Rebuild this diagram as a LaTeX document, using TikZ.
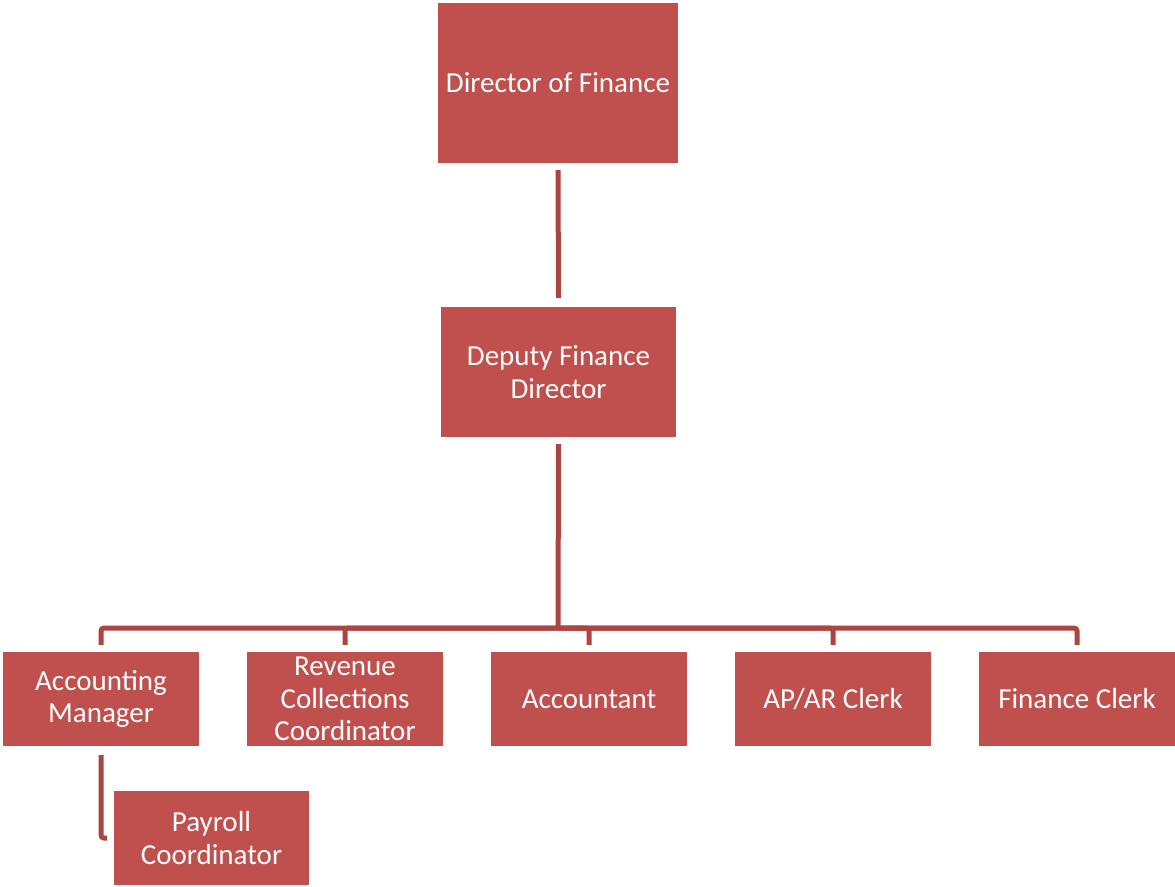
\documentclass[tikz,border=0pt]{standalone}
\usepackage{fontspec}
\setmainfont{Carlito}
\definecolor{boxred}{RGB}{192,80,77}
\definecolor{linered}{RGB}{172,68,66}
\begin{document}
\begin{tikzpicture}[x=1pt,y=-1pt,
  box/.style={fill=boxred, draw=none, text=white, align=center, inner sep=0pt,
    font=\fontsize{29}{32.5}\selectfont},
  conn/.style={draw=linered, line width=5pt}]
\useasboundingbox (0,0) rectangle (1175,886);
\node[box, minimum width=240, minimum height=160] (dir) at (558,83) {Director of Finance};
\node[box, minimum width=235, minimum height=130] (dep) at (558.5,372) {Deputy Finance\\Director};
\node[box, minimum width=196, minimum height=94] (b1) at (101,699) {Accounting\\Manager};
\node[box, minimum width=196, minimum height=94] (b2) at (345,699) {Revenue\\Collections\\Coordinator};
\node[box, minimum width=196, minimum height=94] (b3) at (589,699) {Accountant};
\node[box, minimum width=196, minimum height=94] (b4) at (833,699) {AP/AR Clerk};
\node[box, minimum width=196, minimum height=94] (b5) at (1077,699) {Finance Clerk};
\node[box, minimum width=195, minimum height=94] (pay) at (211.5,838) {Payroll\\Coordinator};
\coordinate (bus) at (558,628);
\draw[conn] ([yshift=-7pt]dir.south) -- ([yshift=9pt]dep.north);
\draw[conn] ([yshift=-7pt]dep.south) -- (bus);
\foreach \n in {b1,b2,b3,b4,b5}
  \draw[conn, rounded corners=3pt] (bus) -| ([yshift=7pt]\n.north);
\draw[conn, rounded corners=3pt] ([yshift=-9pt]b1.south) |- ([xshift=-7pt]pay.west);
\end{tikzpicture}
\end{document}
